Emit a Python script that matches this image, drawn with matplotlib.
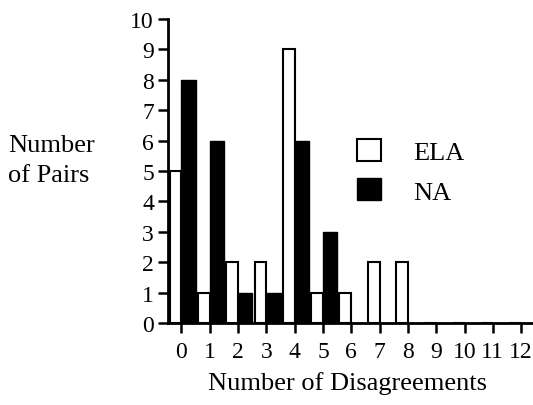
import numpy as np
import matplotlib.pyplot as plt
from matplotlib.patches import Patch

plt.rcParams['font.family'] = ['Liberation Serif', 'DejaVu Serif']

disagreements = np.arange(0, 13)
ela_pairs = [5, 1, 2, 2, 9, 1, 1, 2, 2, 0, 0, 0, 0]
na_pairs = [8, 6, 1, 1, 6, 3, 0, 0, 0, 0, 0, 0, 0]

fig = plt.figure(figsize=(5.33, 4.06), dpi=100)
ax = fig.add_axes([0.315, 0.202, 0.685, 0.749])

# ELA bars sit just left of each tick, NA bars just right
ax.bar(disagreements, ela_pairs, width=-0.42, align='edge',
       facecolor='white', edgecolor='black', linewidth=1.5, zorder=2)
ax.bar(disagreements, na_pairs, width=0.5, align='edge',
       facecolor='black', edgecolor='black', linewidth=1.0, zorder=3)

ax.set_xlim(-0.48, 12.42)
ax.set_ylim(0, 10)
ax.set_xticks(disagreements)
ax.set_yticks(range(0, 11))
for s in ['top', 'right']:
    ax.spines[s].set_visible(False)
for s in ['left', 'bottom']:
    ax.spines[s].set_linewidth(2.0)
ax.tick_params(axis='both', direction='out', length=7, width=1.8,
               labelsize=17, pad=3)
ax.tick_params(axis='x', pad=6)

fig.text(0.015, 0.64, "Number", fontsize=19, ha='left', va='center')
fig.text(0.015, 0.567, "of Pairs", fontsize=19, ha='left', va='center')
fig.text(0.652, 0.055, "Number of Disagreements", fontsize=19,
         ha='center', va='center')

handles = [Patch(facecolor='white', edgecolor='black', linewidth=1.5, label='ELA'),
           Patch(facecolor='black', edgecolor='black', label='NA')]
ax.legend(handles=handles, loc='upper left', bbox_to_anchor=(0.49, 0.64),
          frameon=False, fontsize=19, handlelength=0.9, handleheight=0.9,
          handletextpad=1.2, labelspacing=0.55, borderaxespad=0)

fig.savefig("out.png", dpi=100)
